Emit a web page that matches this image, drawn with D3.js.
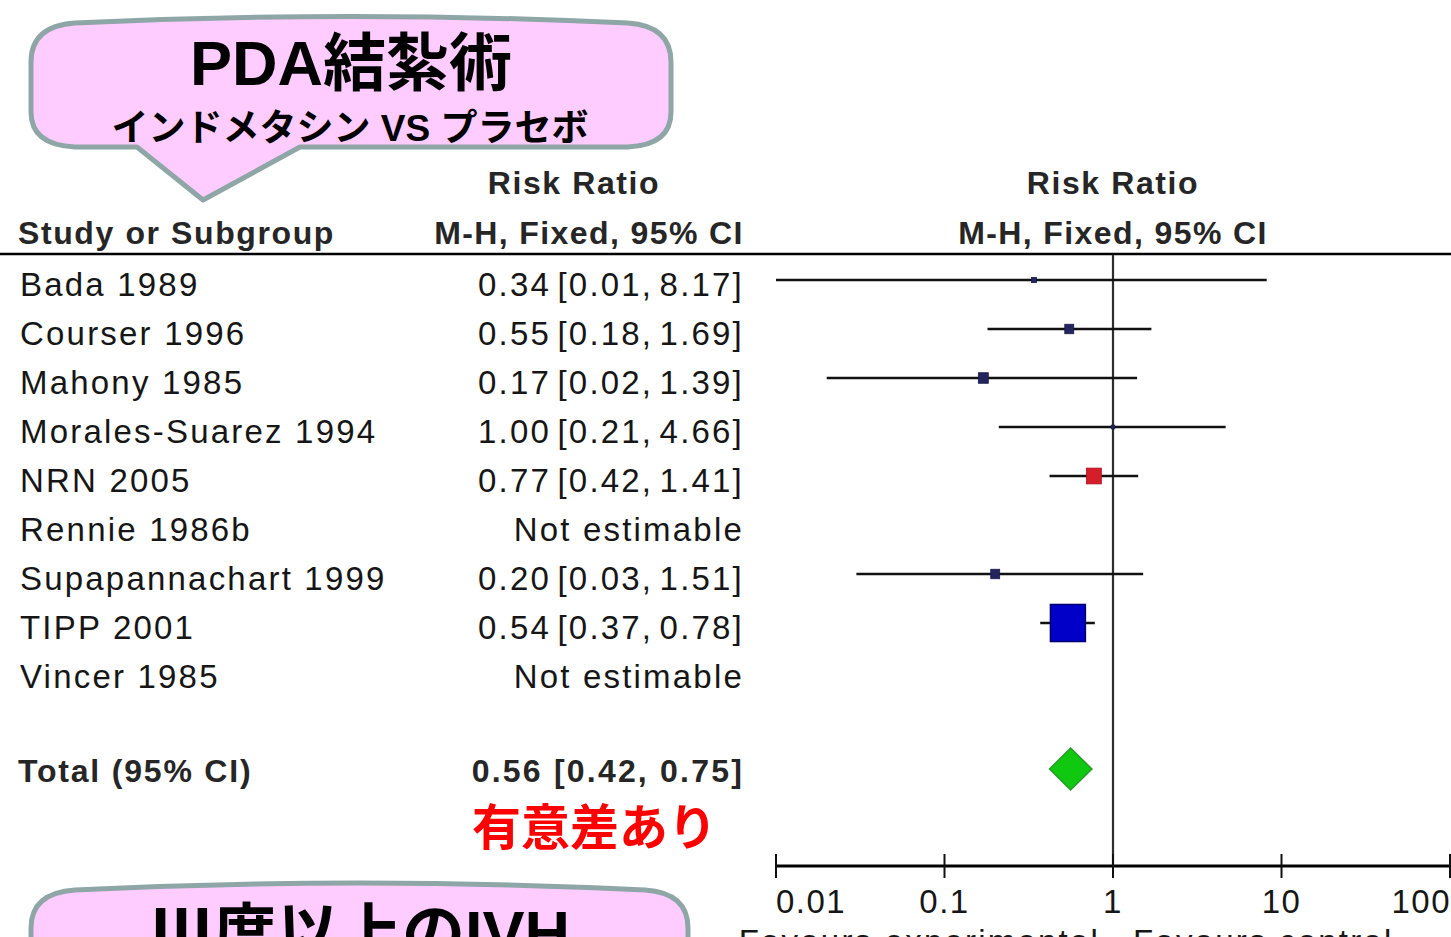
<!DOCTYPE html>
<html>
<head>
<meta charset="utf-8">
<script src="https://cdn.jsdelivr.net/npm/d3@7"></script>
<style>
  html, body { margin: 0; padding: 0; background: #fff; }
  svg { display: block; }
</style>
</head>
<body>
<svg id="chart" width="1451" height="937"></svg>
<script>
// Study rows of the forest plot
const studies = ["Bada 1989", "Courser 1996", "Mahony 1985", "Morales-Suarez 1994",
  "NRN 2005", "Rennie 1986b", "Supapannachart 1999", "TIPP 2001", "Vincer 1985"];
const riskRatio = [0.34, 0.55, 0.17, 1.00, 0.77, null, 0.20, 0.54, null];
const ciLower   = [0.01, 0.18, 0.02, 0.21, 0.42, null, 0.03, 0.37, null];
const ciUpper   = [8.17, 1.69, 1.39, 4.66, 1.41, null, 1.51, 0.78, null];
const weights   = [1.4, 4.6, 5.7, 0.7, 12.8, 0, 4.6, 70.3, 0];

// Pooled estimate
const totalLabel = "Total (95% CI)";
const totalRR = 0.56, totalLower = 0.42, totalUpper = 0.75;

// Axis ticks
const tickValues = [0.01, 0.1, 1, 10, 100];
const tickLabels = ["0.01", "0.1", "1", "10", "100"];

const svg = d3.select("#chart");
const LATIN = "'Liberation Sans', Arial, sans-serif";
const MIXED = "'Liberation Sans', 'Noto Sans CJK JP', sans-serif";
const CJK = "'Noto Sans CJK JP', 'Noto Sans', sans-serif";

// Scales
const x = d3.scaleLog().domain([0.01, 100]).range([776, 1450]);
const rowY = d3.scalePoint().domain(d3.range(studies.length)).range([284, 676]);
const totalY = 769;
const boxSize = d3.scaleSqrt().domain([0, 100]).range([0, 41.7]);
const boxFill = (i) => i === 4 ? "#d41f2b" : (i === 7 ? "#0000c8" : "#24245e");
const boxStroke = (i) => i === 4 ? "#b01020" : (i === 7 ? "#000070" : "#1a1a4a");

// ---- Column headers ----
const hdr = svg.append("g").attr("font-family", LATIN).attr("font-weight", "bold")
  .attr("fill", "#262626").attr("font-size", 32);
hdr.append("text").attr("x", 18).attr("y", 244).attr("letter-spacing", 1.6).text("Study or Subgroup");
hdr.append("text").attr("x", 574).attr("y", 194).attr("text-anchor", "middle").attr("letter-spacing", 1.6).text("Risk Ratio");
hdr.append("text").attr("x", 589).attr("y", 244).attr("text-anchor", "middle").attr("letter-spacing", 1.4).text("M-H, Fixed, 95% CI");
hdr.append("text").attr("x", 1113).attr("y", 194).attr("text-anchor", "middle").attr("letter-spacing", 1.6).text("Risk Ratio");
hdr.append("text").attr("x", 1113).attr("y", 244).attr("text-anchor", "middle").attr("letter-spacing", 1.4).text("M-H, Fixed, 95% CI");

svg.append("line").attr("x1", 0).attr("x2", 1451).attr("y1", 254).attr("y2", 254)
  .attr("stroke", "#000").attr("stroke-width", 2.5);

// ---- Study labels and estimates ----
const rows = svg.append("g").attr("font-family", LATIN).attr("font-size", 33)
  .attr("fill", "#161616").attr("letter-spacing", 2.2);
const fmt = d3.format(".2f");
studies.forEach((name, i) => {
  const y = rowY(i) + 12;
  rows.append("text").attr("x", 20).attr("y", y).text(name);
  const label = riskRatio[i] == null ? "Not estimable"
    : `${fmt(riskRatio[i])} [${fmt(ciLower[i])}, ${fmt(ciUpper[i])}]`;
  rows.append("text").attr("x", 744).attr("y", y).attr("text-anchor", "end")
    .attr("word-spacing", riskRatio[i] == null ? 0 : -5).text(label);
});

// Total row
const tot = svg.append("g").attr("font-family", LATIN).attr("font-weight", "bold")
  .attr("font-size", 32).attr("fill", "#262626");
tot.append("text").attr("x", 18).attr("y", totalY + 13).attr("letter-spacing", 1.8).text(totalLabel);
tot.append("text").attr("x", 744).attr("y", totalY + 13).attr("text-anchor", "end")
  .attr("letter-spacing", 2.2)
  .text(`${fmt(totalRR)} [${fmt(totalLower)}, ${fmt(totalUpper)}]`);

// Significance note
svg.append("text").attr("x", 472).attr("y", 845).attr("font-family", CJK)
  .attr("font-weight", "bold").attr("font-size", 49).attr("fill", "#ff0000")
  .text("有意差あり");

// ---- Plot: line of no effect ----
const axisY = 866;
svg.append("line").attr("x1", x(1)).attr("x2", x(1)).attr("y1", 255).attr("y2", axisY)
  .attr("stroke", "#2e2e2e").attr("stroke-width", 2.2);

// Confidence intervals and weighted boxes
const marks = svg.append("g");
studies.forEach((name, i) => {
  if (riskRatio[i] == null) return;
  const cy = rowY(i) - 4;
  marks.append("line").attr("x1", x(ciLower[i])).attr("x2", x(ciUpper[i]))
    .attr("y1", cy).attr("y2", cy).attr("stroke", "#111").attr("stroke-width", 2.4);
  const s = Math.max(boxSize(weights[i]), 3);
  marks.append("rect").attr("x", x(riskRatio[i]) - s / 2).attr("y", cy - s * 0.53)
    .attr("width", s).attr("height", s * 1.06)
    .attr("fill", boxFill(i)).attr("stroke", boxStroke(i)).attr("stroke-width", s > 20 ? 1.5 : 0.8);
});

// Pooled diamond
const dh = 21;
marks.append("path")
  .attr("d", `M${x(totalLower)},${totalY} L${x(totalRR)},${totalY - dh} L${x(totalUpper)},${totalY} L${x(totalRR)},${totalY + dh} Z`)
  .attr("fill", "#10c810").attr("stroke", "#2a9a2a").attr("stroke-width", 1.5);

// ---- X axis ----
const ax = svg.append("g");
ax.append("line").attr("x1", x(0.01) - 1).attr("x2", 1451).attr("y1", axisY).attr("y2", axisY)
  .attr("stroke", "#000").attr("stroke-width", 3);
ax.selectAll("line.tick").data(tickValues).join("line").attr("class", "tick")
  .attr("x1", d => x(d)).attr("x2", d => x(d)).attr("y1", axisY - 12).attr("y2", axisY + 12)
  .attr("stroke", "#111").attr("stroke-width", 2);
ax.selectAll("text.tick").data(tickValues).join("text").attr("class", "tick")
  .attr("x", (d, i) => i === 0 ? x(d) : (i === tickValues.length - 1 ? 1451 : x(d)))
  .attr("y", 913)
  .attr("text-anchor", (d, i) => i === 0 ? "start" : (i === tickValues.length - 1 ? "end" : "middle"))
  .attr("font-family", LATIN).attr("font-size", 33).attr("letter-spacing", 1.5)
  .attr("fill", "#161616")
  .text((d, i) => tickLabels[i]);

// Favours labels below the axis
const fav = svg.append("g").attr("font-family", LATIN).attr("font-size", 33)
  .attr("letter-spacing", 2.2).attr("fill", "#161616");
fav.append("text").attr("x", 1100).attr("y", 953).attr("text-anchor", "end").text("Favours experimental");
fav.append("text").attr("x", 1133).attr("y", 953).text("Favours control");

// ---- Callout bubbles ----
const bubbleFill = "#ffccff", bubbleStroke = "#8fa6a6";
svg.append("path")
  .attr("d", "M75,23 Q350,10 628,23 Q671,26 671,62 L671,112 Q671,145 628,147 L300,147 L203,200 L137,147 L75,147 Q31,145 31,112 L31,62 Q31,26 75,23 Z")
  .attr("fill", bubbleFill).attr("stroke", bubbleStroke).attr("stroke-width", 5)
  .attr("stroke-linejoin", "round");
svg.append("text").attr("x", 351).attr("y", 85).attr("text-anchor", "middle")
  .attr("font-family", MIXED).attr("font-weight", "bold").attr("font-size", 63).attr("fill", "#000")
  .text("PDA結紮術");
svg.append("text").attr("x", 350).attr("y", 141).attr("text-anchor", "middle")
  .attr("font-family", MIXED).attr("font-weight", "bold").attr("font-size", 37).attr("fill", "#000")
  .text("インドメタシン VS プラセボ");

svg.append("path")
  .attr("d", "M75,890 Q360,876 645,890 Q688,893 688,928 L688,980 L31,980 L31,928 Q31,893 75,890 Z")
  .attr("fill", bubbleFill).attr("stroke", bubbleStroke).attr("stroke-width", 5);
svg.append("text").attr("x", 360).attr("y", 955).attr("text-anchor", "middle")
  .attr("font-family", MIXED).attr("font-weight", "bold").attr("font-size", 63).attr("fill", "#000")
  .text("Ⅲ度以上のIVH");
</script>
</body>
</html>
